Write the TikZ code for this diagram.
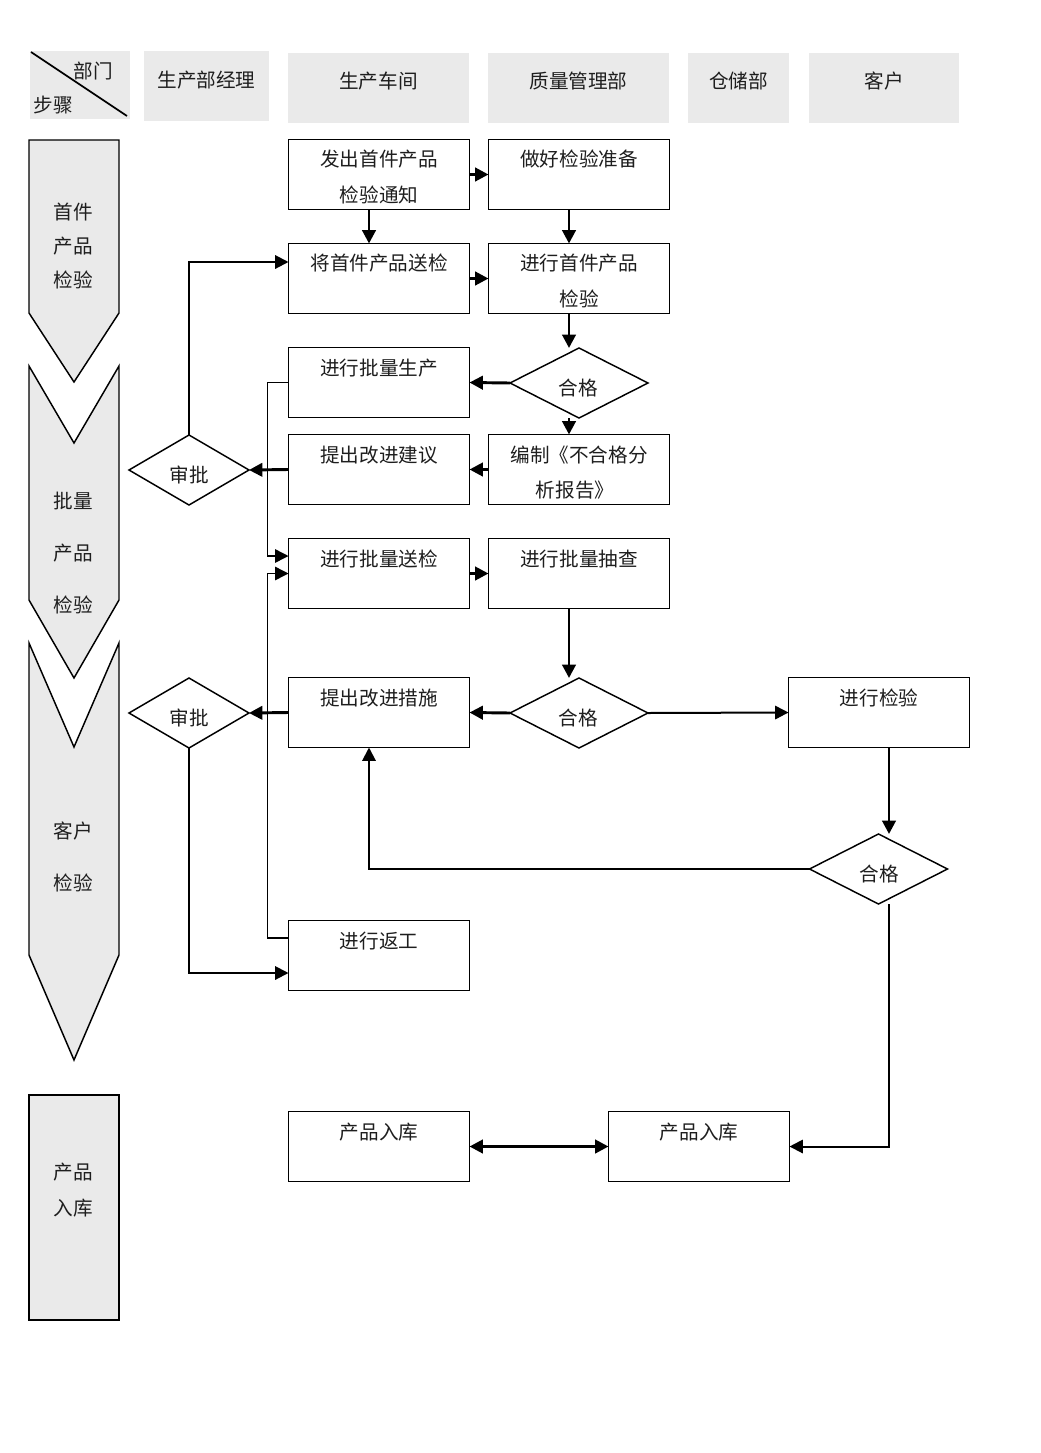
\documentclass[tikz,border=0pt]{standalone}
\usepackage{fontspec}
\newfontfamily\cjk{Noto Sans CJK SC}
\usetikzlibrary{shapes.geometric,arrows.meta,calc}
\definecolor{hdr}{HTML}{EAEAEA}
\definecolor{ink}{HTML}{1E1E1E}
\tikzset{
  sz/.style 2 args={minimum width=#1*0.75pt, minimum height=#2*0.75pt},
  box/.style={draw, line width=1.3pt, inner sep=0pt, outer sep=0pt, fill=white, sz={181}{70}},
  dia/.style={diamond, draw, line width=1.1pt, inner sep=0pt, outer sep=0pt, fill=white, sz={138}{70}},
  sdia/.style={dia, sz={120}{70}},
  hbox/.style={fill=hdr, inner sep=0pt, outer sep=0pt},
  txt/.style={font=\cjk\fontsize{14.7pt}{18pt}\selectfont, text=ink, anchor=base, inner sep=0pt},
  lane/.style={fill=hdr, draw, line width=1.1pt, line join=miter},
  tip/.style={-{Triangle[length=10pt,width=10pt]}},
  thk/.style={tip, line width=2.2pt},
  med/.style={tip, line width=1.5pt},
  thn/.style={tip, line width=1.1pt},
}
\begin{document}
\begin{tikzpicture}[x=0.75pt,y=-0.75pt]
\useasboundingbox (0,0) rectangle (1040,1453);

% ---------- header ----------
\node[hbox, sz={100}{68}] (hc) at (80,85) {};
\draw[line width=1.3pt] ($(hc.north west)+(1,1)$) -- ($(hc.south east)+(-3,-3)$);
\node[txt] (hcA) at (93,78.5) {部门};
\node[txt] (hcB) at (53,112.5) {步骤};
\node[hbox, sz={125}{70}] (h1) at (206.5,86) {};
\node[txt] (h1t) at (206.5,87.5) {生产部经理};
\node[hbox, sz={181}{70}] (h2) at (378.5,88) {};
\node[txt] (h2t) at (378.5,88.5) {生产车间};
\node[hbox, sz={181}{70}] (h3) at (578.5,88) {};
\node[txt] (h3t) at (578.5,88.5) {质量管理部};
\node[hbox, sz={101}{70}] (h4) at (738.5,88) {};
\node[txt] (h4t) at (738.5,88.5) {仓储部};
\node[hbox, sz={150}{70}] (h5) at (884,88) {};
\node[txt] (h5t) at (884,88.5) {客户};

% ---------- step lanes ----------
\draw[lane] (29,140) -- (119,140) -- (119,313) -- (74,382) -- (29,313) -- cycle;
\node[txt] (s1a) at (73,219.5) {首件};
\node[txt] (s1b) at (73,253.5) {产品};
\node[txt] (s1c) at (73,287.5) {检验};
\draw[lane] (29,366) -- (74,443) -- (119,366) -- (119,600) -- (74,678) -- (29,600) -- cycle;
\node[txt] (s2a) at (73,508.5) {批量};
\node[txt] (s2b) at (73,560.5) {产品};
\node[txt] (s2c) at (73,612.5) {检验};
\draw[lane] (29,643) -- (74,747) -- (119,643) -- (119,955) -- (74,1060) -- (29,955) -- cycle;
\node[txt] (s3a) at (73,838.5) {客户};
\node[txt] (s3b) at (73,890.5) {检验};
\draw[lane] (29,1095) rectangle (119,1320);
\node[txt] (s4a) at (73,1179.5) {产品};
\node[txt] (s4b) at (73,1215.5) {入库};

% ---------- process boxes ----------
\node[box] (A1) at (379,174.5) {};
\node[txt] (A1a) at (379,166.5) {发出首件产品};
\node[txt] (A1b) at (379,202) {检验通知};
\node[box] (B1) at (579,174.5) {};
\node[txt] (B1a) at (579,166.5) {做好检验准备};
\node[box] (A2) at (379,278.5) {};
\node[txt] (A2a) at (379,270.5) {将首件产品送检};
\node[box] (B2) at (579,278.5) {};
\node[txt] (B2a) at (579,270.5) {进行首件产品};
\node[txt] (B2b) at (579,306) {检验};
\node[box] (A3) at (379,382.5) {};
\node[txt] (A3a) at (379,375) {进行批量生产};
\node[box] (A4) at (379,469.5) {};
\node[txt] (A4a) at (379,462) {提出改进建议};
\node[box] (B4) at (579,469.5) {};
\node[txt] (B4a) at (579,462) {编制《不合格分};
\node[txt] (B4b) at (575,497) {析报告》};
\node[box] (A5) at (379,573.5) {};
\node[txt] (A5a) at (379,566) {进行批量送检};
\node[box] (B5) at (579,573.5) {};
\node[txt] (B5a) at (579,566) {进行批量抽查};
\node[box] (A6) at (379,712.5) {};
\node[txt] (A6a) at (379,705) {提出改进措施};
\node[box] (C6) at (879,712.5) {};
\node[txt] (C6a) at (879,705) {进行检验};
\node[box] (A7) at (379,955.5) {};
\node[txt] (A7a) at (379,948) {进行返工};
\node[box] (A8) at (379,1146.5) {};
\node[txt] (A8a) at (379,1139) {产品入库};
\node[box] (W8) at (699,1146.5) {};
\node[txt] (W8a) at (699,1139) {产品入库};

% ---------- decisions ----------
\node[dia] (D1) at (579,383) {};
\node[txt] (D1t) at (578,395.5) {合格};
\node[dia] (D2) at (579,713) {};
\node[txt] (D2t) at (578,725.5) {合格};
\node[dia] (D3) at (878.5,869) {};
\node[txt] (D3t) at (879,881.5) {合格};
\node[sdia] (S1) at (189,470) {};
\node[txt] (S1t) at (189,482.5) {审批};
\node[sdia] (S2) at (189,713) {};
\node[txt] (S2t) at (189,725.5) {审批};

% ---------- connectors ----------
\draw[thk] (A1.east) -- (B1.west);
\draw[thk] ($(A1.south)+(-10,0)$) -- ($(A2.north)+(-10,0)$);
\draw[thk] ($(B1.south)+(-10,0)$) -- ($(B2.north)+(-10,0)$);
\draw[thk] (A2.east) -- (B2.west);
\draw[thk] ($(B2.south)+(-10,0)$) -- ($(D1.north)+(-10,0)$);
\draw[thk] (D1.west) -- (A3.east);
\draw[thk] ($(D1.south)+(-10,0)$) -- ($(B4.north)+(-10,0)$);
\draw[thk] (B4.west) -- (A4.east);
\draw[thk] (A4.west) -- (S1.east);
\draw[med] (S1.north) |- ($(A2.west)+(0,-16.5)$);
\draw[thn] (A3.west) -- ++(-21,0) |- ($(A5.west)+(0,-17.5)$);
\draw[thn] ($(A7.west)+(0,-17.5)$) -- ++(-21,0) |- (A5.west);
\draw[thk] (A5.east) -- (B5.west);
\draw[thk] ($(B5.south)+(-10,0)$) -- ($(D2.north)+(-10,0)$);
\draw[thk] (D2.west) -- (A6.east);
\draw[thk] (A6.west) -- (S2.east);
\draw[med] (D2.east) -- (C6.west);
\draw[thk] ($(C6.south)+(10,0)$) -- ($(D3.north)+(10.5,0)$);
\draw[med] (D3.west) -| ($(A6.south)+(-10,0)$);
\draw[med] (S2.south) |- ($(A7.west)+(0,17.5)$);
\draw[med] ($(D3.south)+(10.5,0)$) |- (W8.east);
\draw[thk, {Triangle[length=10pt,width=10pt]}-{Triangle[length=10pt,width=10pt]}] (A8.east) -- (W8.west);
\end{tikzpicture}
\end{document}
